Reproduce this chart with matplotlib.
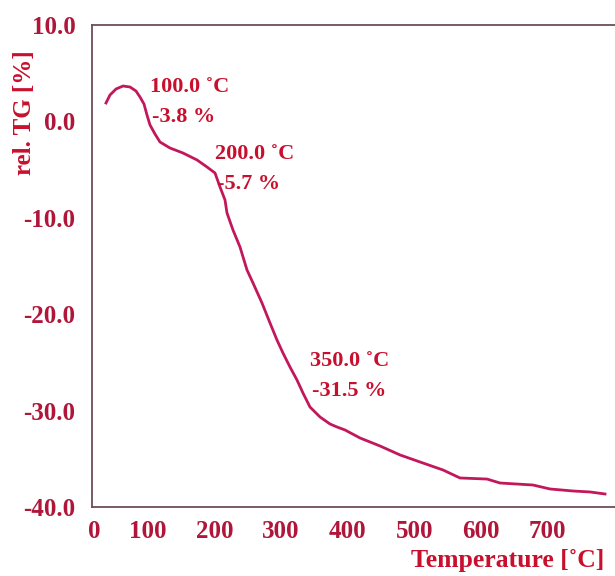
import matplotlib

matplotlib.use("Agg")
import matplotlib.pyplot as plt

# TG curve (temperature in degC, rel. mass change in %)
temperature = [37.5, 43.5, 52.5, 63, 73.5, 82.5, 88.5, 94.5, 99, 103.5, 111, 118.5,
               133.5, 153, 174, 189, 201, 208.5, 216, 219, 228, 238.5, 249, 258,
               271.5, 283.5, 294, 303, 313.5, 324, 333, 343.5, 358.5, 373.5, 384,
               396, 418.5, 448.5, 478.5, 508.5, 543, 568.5, 609, 628.5, 678, 703.5,
               738, 763.5, 786]
rel_tg = [1.91, 2.74, 3.36, 3.67, 3.57, 3.15, 2.53, 1.80, 0.66, -0.37, -1.31, -2.14,
          -2.76, -3.28, -4.00, -4.73, -5.35, -6.80, -8.15, -9.50, -11.27, -13.03,
          -15.41, -16.76, -18.84, -20.91, -22.68, -24.03, -25.48, -26.83, -28.18,
          -29.63, -30.66, -31.39, -31.70, -32.01, -32.84, -33.67, -34.60, -35.33,
          -36.16, -36.99, -37.10, -37.51, -37.72, -38.13, -38.34, -38.44, -38.65]

x_ticks = [0, 100, 200, 300, 400, 500, 600, 700]
x_tick_labels = ["0", "100", "200", "300", "400", "500", "600", "700"]
y_ticks = [10, 0, -10, -20, -30, -40]
y_tick_labels = ["10.0", "0.0", "-10.0", "-20.0", "-30.0", "-40.0"]

# step annotations: (temperature line, mass-loss line)
annot_temp = ["100.0 ˚C", "200.0 ˚C", "350.0 ˚C"]
annot_loss = ["-3.8 %", "-5.7 %", "-31.5 %"]

XMIN, XMAX = 16.5, 801
LINE_COLOR = "#c2185b"
TEXT_COLOR = "#c8102e"
TICK_COLOR = "#b0163a"
SPINE_COLOR = "#6e4c5c"
FONT = "Liberation Serif"

fig = plt.figure(figsize=(6.15, 5.76), dpi=100)
ax = fig.add_axes([92 / 615, 1 - 507 / 576, 1 - 92 / 615, (507 - 25) / 576])

ax.plot(temperature, rel_tg, color=LINE_COLOR, linewidth=2.0, solid_joinstyle="round")

ax.set_xlim(XMIN, XMAX)
ax.set_ylim(-40, 10)

# the left-most label sits on the axis edge in the original
ax.set_xticks([max(t, XMIN + 3) for t in x_ticks])
ax.set_xticklabels(x_tick_labels)
ax.set_yticks(y_ticks)
ax.set_yticklabels(y_tick_labels)
ax.tick_params(length=0)
ax.tick_params(axis="x", pad=9)
ax.tick_params(axis="y", pad=12)
for lab in ax.get_xticklabels() + ax.get_yticklabels():
    lab.set_fontfamily(FONT)
    lab.set_fontweight("bold")
    lab.set_fontsize(18)
    lab.set_color(TICK_COLOR)

for side in ("left", "top", "bottom"):
    ax.spines[side].set_color(SPINE_COLOR)
    ax.spines[side].set_linewidth(1.3)
ax.spines["right"].set_visible(False)

# annotation text positions in pixels (left, centre-y of first line)
annot_px = [(150, 87), (215, 154), (310, 361)]
for (px, py), t_txt, l_txt in zip(annot_px, annot_temp, annot_loss):
    fig.text(px / 615, 1 - py / 576, t_txt, fontfamily=FONT, fontweight="bold",
             fontsize=16, color=TEXT_COLOR, ha="left", va="center")
    fig.text((px + 2) / 615, 1 - (py + 30) / 576, l_txt, fontfamily=FONT,
             fontweight="bold", fontsize=16, color=TEXT_COLOR, ha="left", va="center")

fig.text(25 / 615, 1 - 113 / 576, "rel. TG [%]", rotation=90, fontfamily=FONT,
         fontweight="bold", fontsize=18, color=TEXT_COLOR, ha="center", va="center")
fig.text(604 / 615, 1 - 560 / 576, "Temperature [˚C]", fontfamily=FONT,
         fontweight="bold", fontsize=18.5, color=TEXT_COLOR, ha="right", va="center")

fig.savefig("out.png", dpi=100)
